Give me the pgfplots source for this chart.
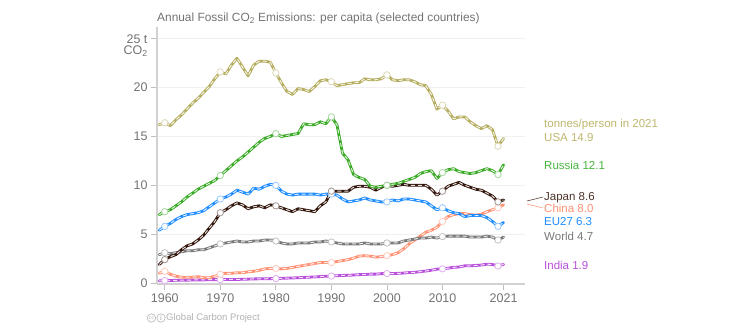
\documentclass[border=0pt]{standalone}
\usepackage{fontspec}
\setmainfont{Liberation Sans}
\usepackage{pgfplots}
\usepackage{pgfplotstable}
\pgfplotsset{compat=1.18}
\definecolor{usa}{RGB}{181,173,95}
\definecolor{usal}{RGB}{190,182,110}
\definecolor{rus}{RGB}{58,170,38}
\definecolor{rusl}{RGB}{70,180,60}
\definecolor{eu}{RGB}{30,140,255}
\definecolor{jap}{RGB}{50,22,12}
\definecolor{japl}{RGB}{75,50,40}
\definecolor{wor}{RGB}{120,120,120}
\definecolor{chi}{RGB}{255,145,115}
\definecolor{ind}{RGB}{185,80,220}
\definecolor{tickgray}{RGB}{115,115,115}
\pgfplotstableread{
year usa russia eu japan world china india
1959 16.2 7.0 5.4 1.9 2.9 1.0 0.22
1960 16.4 7.3 5.8 2.4 3.1 1.2 0.25
1961 16.1 7.5 6.1 2.7 3.0 0.9 0.26
1962 16.7 7.9 6.5 2.9 3.1 0.7 0.28
1963 17.2 8.3 6.8 3.4 3.2 0.6 0.29
1964 17.8 8.8 7.0 3.8 3.3 0.6 0.29
1965 18.4 9.2 7.1 4.0 3.3 0.6 0.31
1966 18.9 9.6 7.2 4.4 3.4 0.65 0.31
1967 19.5 9.9 7.4 4.9 3.4 0.55 0.32
1968 20.1 10.2 7.8 5.6 3.6 0.55 0.34
1969 20.9 10.5 8.2 6.3 3.8 0.7 0.35
1970 21.6 11.0 8.6 7.2 4.0 0.9 0.35
1971 21.4 11.5 8.8 7.5 4.1 1.0 0.36
1972 22.3 12.0 9.1 7.9 4.2 1.0 0.37
1973 23.0 12.5 9.5 8.2 4.3 1.05 0.37
1974 22.1 12.9 9.3 8.0 4.2 1.05 0.38
1975 21.2 13.4 9.1 7.6 4.2 1.15 0.40
1976 22.3 13.9 9.7 7.8 4.3 1.2 0.42
1977 22.7 14.4 9.6 7.9 4.3 1.3 0.43
1978 22.7 14.8 9.9 7.7 4.4 1.45 0.43
1979 22.6 15.0 10.1 8.0 4.4 1.5 0.45
1980 21.5 15.3 10.0 7.9 4.3 1.5 0.46
1981 20.5 15.0 9.4 7.7 4.1 1.45 0.48
1982 19.6 15.1 9.1 7.5 4.0 1.5 0.50
1983 19.3 15.2 9.0 7.3 4.0 1.6 0.52
1984 19.9 15.3 9.1 7.6 4.1 1.7 0.54
1985 19.8 16.3 9.1 7.5 4.1 1.8 0.57
1986 19.6 16.2 9.1 7.4 4.1 1.9 0.60
1987 20.1 16.2 9.1 7.3 4.2 2.0 0.62
1988 20.7 16.5 9.0 7.9 4.2 2.1 0.66
1989 20.8 16.3 9.1 8.3 4.3 2.1 0.70
1990 20.6 17.0 9.1 9.4 4.2 2.1 0.71
1991 20.2 16.2 9.0 9.4 4.1 2.2 0.75
1992 20.3 13.3 8.6 9.4 4.0 2.3 0.78
1993 20.4 12.6 8.3 9.4 4.0 2.4 0.79
1994 20.5 11.1 8.4 9.8 4.0 2.55 0.82
1995 20.5 10.8 8.5 9.9 4.0 2.75 0.86
1996 20.9 10.6 8.7 9.9 4.1 2.8 0.87
1997 20.8 9.9 8.5 9.8 4.0 2.75 0.91
1998 20.8 9.8 8.4 9.5 4.0 2.65 0.91
1999 20.9 9.9 8.3 9.8 4.0 2.7 0.96
2000 21.3 10.0 8.3 10.0 4.1 2.8 0.97
2001 20.8 10.1 8.5 9.9 4.1 2.9 0.97
2002 20.7 10.2 8.4 10.0 4.1 3.1 0.99
2003 20.8 10.4 8.6 10.1 4.3 3.5 1.02
2004 20.8 10.6 8.6 10.0 4.4 4.0 1.07
2005 20.6 10.8 8.5 10.0 4.5 4.4 1.10
2006 20.3 11.2 8.4 10.0 4.6 4.8 1.16
2007 20.2 11.4 8.3 10.0 4.6 5.2 1.23
2008 19.3 11.5 7.9 9.6 4.7 5.4 1.31
2009 17.8 10.7 7.5 9.0 4.6 5.7 1.42
2010 18.2 11.3 7.7 9.4 4.75 6.3 1.45
2011 17.6 11.6 7.4 9.9 4.8 6.8 1.52
2012 16.8 11.7 7.2 10.1 4.8 7.0 1.61
2013 17.0 11.4 7.1 10.3 4.8 7.1 1.64
2014 17.0 11.3 6.8 10.0 4.8 7.1 1.76
2015 16.5 11.2 6.9 9.8 4.7 7.0 1.76
2016 16.1 11.3 6.9 9.6 4.7 6.95 1.80
2017 15.8 11.5 6.9 9.5 4.7 7.05 1.84
2018 16.1 11.7 6.7 9.2 4.8 7.3 1.93
2019 15.7 11.5 6.3 8.9 4.7 7.5 1.90
2020 14.0 11.1 5.8 8.3 4.4 7.7 1.74
2021 14.8 12.1 6.2 8.5 4.7 8.0 1.90
}\data
\newcommand{\series}[2]{%
 \addplot[#2, line width=2.8pt, line join=round, line cap=round] table[x=year,y=#1]{\data};
 \addplot[white, opacity=0.85, line width=1pt, dash pattern=on 4pt off 3pt] table[x=year,y=#1]{\data};
 \addplot[only marks, mark=*, mark size=3.2pt, mark options={fill=white, draw=#2!45!white, line width=0.8pt}, mark indices={2,12,22,32,42,52,62}] table[x=year,y=#1]{\data};
}
\begin{document}
\begin{tikzpicture}[x=1pt,y=1pt]
\useasboundingbox (0,0) rectangle (754,327);
\begin{axis}[
  at={(157pt,43pt)}, anchor=south west,
  scale only axis, width=368pt, height=257pt,
  xmin=1958.6, xmax=2024.86, ymin=-0.1, ymax=26.2,
  axis x line=bottom, axis y line=left,
  axis line style={draw=black!18, line width=1.2pt, -},
  xtick={1960,1970,1980,1990,2000,2010,2021},
  ytick={0,5,10,15,20,25},
  yticklabels={0,5,10,15,20,25 t},
  ymajorgrids, grid style={draw=black!6, line width=0.8pt},
  tick style={draw=black!25, line width=0.8pt},
  major tick length=6pt, tick align=outside,
  xticklabel style={/pgf/number format/1000 sep={}},
  ticklabel style={font=\fontsize{12.5}{14}\selectfont, text=tickgray},
  /pgf/number format/assume math mode=true,
  clip=false,
]
\series{india}{ind}
\series{china}{chi}
\series{world}{wor}
\series{eu}{eu}
\series{japan}{jap}
\series{russia}{rus}
\series{usa}{usa}
\end{axis}
\node[anchor=east, text=tickgray, font=\fontsize{12.5}{14}\selectfont, inner sep=0] at (148,276) {CO\textsubscript{2}};
\node[anchor=base west, text=tickgray, font=\fontsize{11.9}{14}\selectfont, inner sep=0] at (157,305) {Annual Fossil CO\textsubscript{2} Emissions: per capita (selected countries)};
\begin{scope}[font=\fontsize{11.5}{13}\selectfont]
\node[anchor=west, inner sep=0, text=usal] at (544,202) {tonnes/person in 2021};
\node[anchor=west, inner sep=0, text=usal] at (544,189) {USA 14.9};
\node[anchor=west, inner sep=0, text=rusl] at (544,161.3) {Russia 12.1};
\node[anchor=west, inner sep=0, text=japl] at (544,129.3) {Japan 8.6};
\node[anchor=west, inner sep=0, text=chi] at (544,119) {China 8.0};
\node[anchor=west, inner sep=0, text=eu] at (544,105.3) {EU27 6.3};
\node[anchor=west, inner sep=0, text=wor] at (544,90.3) {World 4.7};
\node[anchor=west, inner sep=0, text=ind] at (544,62) {India 1.9};
\end{scope}
\draw[japl, line width=0.6pt] (527,126) -- (543,130);
\draw[chi, line width=0.6pt] (527,123) -- (543,119);
% CC-BY icons drawn as small circled marks
\draw[black!30, line width=0.6pt] (151.5,9) circle (4.2);
\node[text=black!30, font=\fontsize{5}{5}\selectfont, inner sep=0] at (151.5,9) {cc};
\draw[black!30, line width=0.6pt] (161,9) circle (4.2);
\node[text=black!30, font=\fontsize{6.5}{6.5}\selectfont\bfseries, inner sep=0] at (161,9) {i};
\node[anchor=west, inner sep=0, text=black!30, font=\fontsize{9.5}{11}\selectfont] at (166,9) {Global Carbon Project};
\end{tikzpicture}
\end{document}
